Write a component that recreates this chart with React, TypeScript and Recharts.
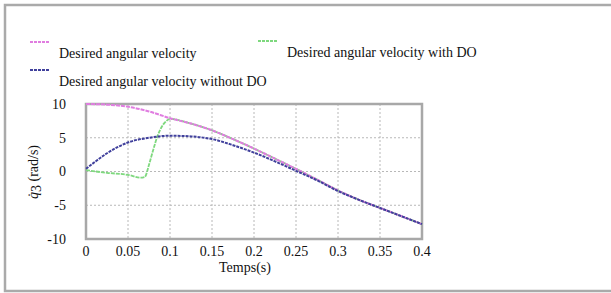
import React from "react";
import { LineChart, Line, XAxis, YAxis, CartesianGrid, ReferenceArea } from "recharts";

const xTicks = [0, 0.05, 0.1, 0.15, 0.2, 0.25, 0.3, 0.35, 0.4];
const yTicks = [-10, -5, 0, 5, 10];

const desiredT = [0, 0.025, 0.05, 0.075, 0.1, 0.125, 0.15, 0.175, 0.2, 0.225, 0.25, 0.275, 0.3, 0.325, 0.35, 0.375, 0.4];
const desiredV = [10, 9.9, 9.6, 8.9, 7.9, 7.1, 6.1, 4.8, 3.4, 1.9, 0.4, -1.2, -2.8, -4.2, -5.4, -6.6, -7.8];

const withoutT = [0, 0.0125, 0.025, 0.0375, 0.05, 0.075, 0.1, 0.125, 0.15, 0.175, 0.2, 0.225, 0.25, 0.275, 0.3, 0.325, 0.35, 0.375, 0.4];
const withoutV = [0.4, 1.6, 2.7, 3.6, 4.3, 5.0, 5.3, 5.2, 4.8, 3.9, 2.8, 1.5, 0.1, -1.3, -2.9, -4.2, -5.4, -6.6, -7.8];

const withT = [0, 0.025, 0.05, 0.065, 0.07, 0.075, 0.08, 0.085, 0.09, 0.095, 0.1, 0.125, 0.15, 0.175, 0.2, 0.225, 0.25, 0.275, 0.3, 0.325, 0.35, 0.375, 0.4];
const withV = [0.2, -0.2, -0.5, -0.9, -0.8, 1.0, 3.2, 5.2, 6.6, 7.4, 7.8, 7.1, 6.1, 4.8, 3.4, 1.9, 0.4, -1.2, -2.8, -4.2, -5.4, -6.6, -7.8];

const seriesNames = ["Desired angular velocity", "Desired angular velocity with DO", "Desired angular velocity without DO"];

const toData = (ts: number[], vs: number[]) => ts.map((t, i) => ({ t, v: vs[i] }));
const desiredData = toData(desiredT, desiredV);
const withData = toData(withT, withV);
const withoutData = toData(withoutT, withoutV);

const PINK = "#e07de0";
const GREEN = "#7ed87e";
const BLUE = "#40409c";
const FONT = "'Liberation Serif', 'Times New Roman', serif";

const YLabel = () => (
  <text x={38} y={172} transform="rotate(-90 38 172)" textAnchor="middle" fontFamily={FONT} fontSize={14} fill="#111">
    <tspan fontStyle="italic">q̇</tspan>
    <tspan dy={3}>3</tspan>
    <tspan dy={-3}> (rad/s)</tspan>
  </text>
);

const LegendItem = ({ x, y, color, label }: { x: number; y: number; color: string; label: string }) => (
  <g>
    <line x1={x} y1={y} x2={x + 20} y2={y} stroke={color} strokeWidth={2} strokeDasharray="3 1" />
    <text x={x + 29} y={y + 16} fontFamily={FONT} fontSize={14} fill="#111">{label}</text>
  </g>
);

export default function App() {
  return (
    <div style={{ position: "absolute", left: 0, top: 0, width: 611, height: 293, background: "#fff" }}>
      <svg width={611} height={293} style={{ position: "absolute", left: 0, top: 0 }}>
        <rect x={5} y={5} width={620} height={286} fill="none" stroke="#aaa" strokeWidth={2.5} />
        <LegendItem x={30} y={42} color={PINK} label={seriesNames[0]} />
        <LegendItem x={258} y={41} color={GREEN} label={seriesNames[1]} />
        <LegendItem x={30} y={70} color={BLUE} label={seriesNames[2]} />
        <text x={245} y={272} textAnchor="middle" fontFamily={FONT} fontSize={14} fill="#111">Temps(s)</text>
        <YLabel />
      </svg>
      <div style={{ position: "absolute", left: 0, top: 0 }}>
        <LineChart width={611} height={293} margin={{ top: 104, right: 189, bottom: 24, left: 46 }}>
          <CartesianGrid stroke="#b8b8b8" strokeDasharray="2 2" />
          <XAxis
            dataKey="t"
            type="number"
            domain={[0, 0.4]}
            ticks={xTicks}
            tickLine={false}
            axisLine={false}
            height={30}
            allowDuplicatedCategory={false}
            tick={{ fontFamily: FONT, fontSize: 14, fill: "#111" }}
            tickMargin={1}
          />
          <YAxis
            dataKey="v"
            type="number"
            domain={[-10, 10]}
            ticks={yTicks}
            tickLine={false}
            axisLine={false}
            width={40}
            tick={{ fontFamily: FONT, fontSize: 14, fill: "#111" }}
            tickMargin={14}
          />
          <ReferenceArea x1={0} x2={0.4} y1={-10} y2={10} fill="none" stroke="#a8a8a8" strokeWidth={2.5} ifOverflow="visible" />
          <Line data={withData} dataKey="v" type="monotone" stroke={GREEN} strokeWidth={1.8} strokeDasharray="4 1" dot={false} isAnimationActive={false} />
          <Line data={desiredData} dataKey="v" type="monotone" stroke={PINK} strokeWidth={2} strokeDasharray="4 1" dot={false} isAnimationActive={false} />
          <Line data={withoutData} dataKey="v" type="monotone" stroke={BLUE} strokeWidth={2} strokeDasharray="3 1" dot={false} isAnimationActive={false} />
        </LineChart>
      </div>
    </div>
  );
}
